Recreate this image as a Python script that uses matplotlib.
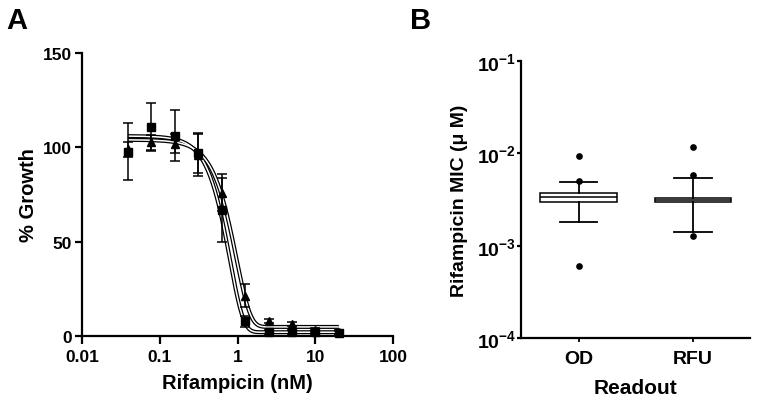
import numpy as np
import matplotlib
matplotlib.use("Agg")
import matplotlib.pyplot as plt

plt.rcParams['font.family'] = ['Liberation Sans', 'DejaVu Sans']
plt.rcParams['font.weight'] = 'bold'
plt.rcParams['mathtext.fontset'] = 'custom'
plt.rcParams['mathtext.rm'] = 'Liberation Sans'
plt.rcParams['mathtext.bf'] = 'Liberation Sans:bold'

# ---------------- Panel A data ----------------
conc_nM = [0.039, 0.078, 0.156, 0.3125, 0.625, 1.25, 2.5, 5, 10, 20]
square_growth = [97.7, 110.6, 106.2, 97.0, 67.0, 7.8, 2.1, 2.0, 2.0, 1.6]
square_err = [15.0, 12.7, 13.6, 10.5, 17.0, 3.0, 1.0, 1.0, 1.0, 1.0]
triangle_growth = [99.0, 102.6, 101.8, 96.0, 76.0, 21.4, 7.8, 6.4, 3.0, 2.0]
triangle_err = [4.0, 4.0, 5.0, 11.0, 10.0, 6.0, 1.0, 1.0, 1.0, 1.0]
# fitted dose-response curve parameters: top, bottom, scale (nM), shape
square_fit = [106.0, 2.0, 0.80, 2.5]
triangle_fit = [104.0, 4.8, 0.965, 2.4]
xticks_A = [0.01, 0.1, 1, 10, 100]
xticklabels_A = ['0.01', '0.1', '1', '10', '100']
yticks_A = [0, 50, 100, 150]

# ---------------- Panel B data ----------------
readouts = ['OD', 'RFU']
whis_low = [1.82e-3, 1.40e-3]
q1 = [2.99e-3, 2.99e-3]
median = [3.39e-3, 3.12e-3]
q3 = [3.71e-3, 3.28e-3]
whis_high = [4.84e-3, 5.4e-3]
outliers = [[9.25e-3, 4.96e-3, 6.0e-4], [1.16e-2, 5.8e-3, 1.29e-3]]
yticks_B = [1e-4, 1e-3, 1e-2, 1e-1]
yticklabels_B = [r'$\mathbf{10^{-4}}$', r'$\mathbf{10^{-3}}$', r'$\mathbf{10^{-2}}$', r'$\mathbf{10^{-1}}$']


def curve(x, p):
    top, bottom, scale, shape = p
    return bottom + (top - bottom) * np.exp(-(x / scale) ** shape)


fig = plt.figure(figsize=(7.59, 4.06), dpi=100)

# ---------------- Panel A ----------------
axA = fig.add_axes([0.108, 0.170, 0.410, 0.697])
xs = np.logspace(np.log10(conc_nM[0]), np.log10(conc_nM[-1]), 400)
for p in (triangle_fit, square_fit):
    y = curve(xs, p)
    axA.plot(xs, y, color='black', lw=2.9, solid_capstyle='butt', zorder=2)
    axA.plot(xs, y, color='white', lw=1.1, solid_capstyle='butt', zorder=2.1)
axA.errorbar(conc_nM, triangle_growth, yerr=triangle_err, fmt='^', color='black',
             ms=6, capsize=3.4, elinewidth=1.1, capthick=1.1, zorder=3, clip_on=False)
axA.errorbar(conc_nM, square_growth, yerr=square_err, fmt='s', color='black',
             ms=6, capsize=3.4, elinewidth=1.1, capthick=1.1, zorder=4, clip_on=False)
axA.set_xscale('log')
axA.set_xlim(0.01, 100)
axA.set_ylim(0, 150)
axA.set_xticks(xticks_A)
axA.set_xticklabels(xticklabels_A)
axA.xaxis.set_minor_locator(matplotlib.ticker.NullLocator())
axA.set_yticks(yticks_A)
for s in ('top', 'right'):
    axA.spines[s].set_visible(False)
for s in ('left', 'bottom'):
    axA.spines[s].set_linewidth(1.6)
axA.tick_params(axis='x', width=1.6, length=5.5, labelsize=12.5, pad=4)
axA.tick_params(axis='y', width=1.6, length=5, labelsize=12.5, pad=2)
for lab in axA.get_xticklabels() + axA.get_yticklabels():
    lab.set_fontweight('bold')
axA.set_xlabel('Rifampicin (nM)', fontsize=14.5, fontweight='bold', labelpad=6)
axA.set_ylabel('% Growth', fontsize=14.5, fontweight='bold', labelpad=4)
fig.text(0.008, 0.915, 'A', fontsize=21, fontweight='bold', ha='left', va='bottom')

# ---------------- Panel B ----------------
axB = fig.add_axes([0.687, 0.164, 0.301, 0.684])
stats = []
for i in range(len(readouts)):
    stats.append(dict(label=readouts[i], whislo=whis_low[i], q1=q1[i], med=median[i],
                      q3=q3[i], whishi=whis_high[i], fliers=outliers[i]))
axB.bxp(stats, positions=[0, 1], widths=0.667, capwidths=0.33, patch_artist=True,
        boxprops=dict(facecolor='white', edgecolor='black', linewidth=1.1),
        medianprops=dict(color='black', linewidth=1.1),
        whiskerprops=dict(color='black', linewidth=1.3),
        capprops=dict(color='black', linewidth=1.3),
        flierprops=dict(marker='o', markerfacecolor='black', markeredgecolor='black',
                        markersize=3.8))
axB.set_yscale('log')
axB.set_ylim(1e-4, 1e-1)
axB.set_xlim(-0.5, 1.5)
axB.set_yticks(yticks_B)
axB.set_yticklabels(yticklabels_B)
axB.yaxis.set_minor_locator(matplotlib.ticker.NullLocator())
axB.set_xticks([0, 1])
axB.set_xticklabels(readouts)
for s in ('top', 'right'):
    axB.spines[s].set_visible(False)
for s in ('left', 'bottom'):
    axB.spines[s].set_linewidth(1.6)
axB.tick_params(axis='y', width=1.6, length=3, labelsize=14, pad=1)
axB.tick_params(axis='x', width=1.3, length=3, labelsize=14, pad=5)
for lab in axB.get_xticklabels():
    lab.set_fontweight('bold')
axB.set_xlabel('Readout', fontsize=15, fontweight='bold', labelpad=8)
axB.set_ylabel('Rifampicin MIC (\u03bc M)', fontsize=14, fontweight='bold', labelpad=6)
fig.text(0.540, 0.915, 'B', fontsize=21, fontweight='bold', ha='left', va='bottom')

fig.savefig('out.png', dpi=100)
